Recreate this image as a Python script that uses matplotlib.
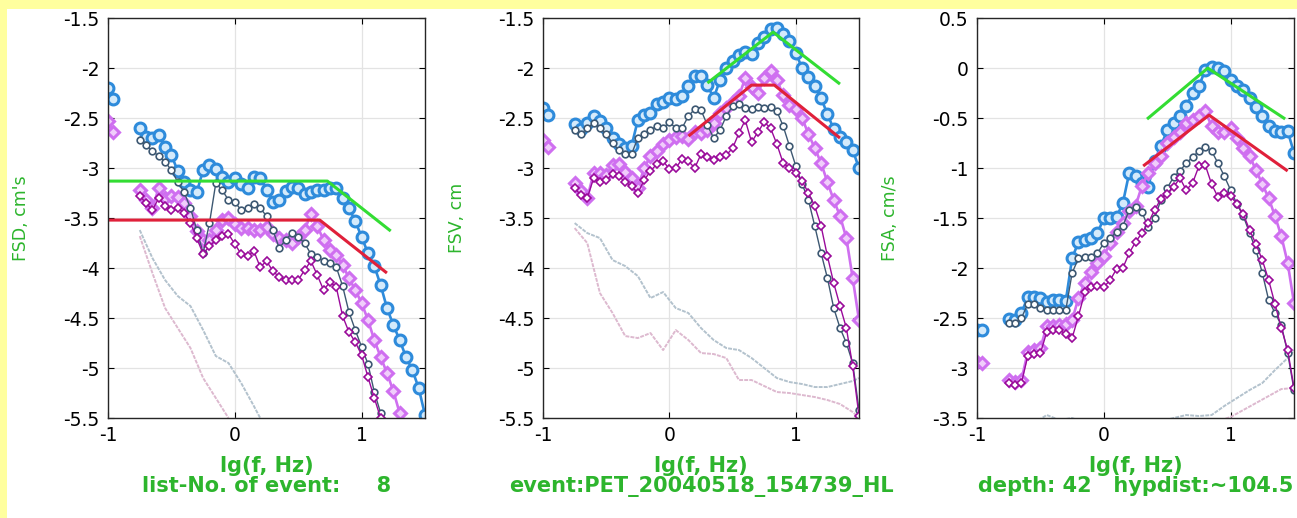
import matplotlib
matplotlib.use("Agg")
import matplotlib.pyplot as plt
from matplotlib.patches import Rectangle
from matplotlib.ticker import FormatStrFormatter

plt.rcParams["font.family"] = ["DejaVu Sans"]
plt.rcParams["axes.unicode_minus"] = False

# common frequency grid, lg(f, Hz)
lgf = [-0.75, -0.70, -0.65, -0.60, -0.55, -0.50, -0.45, -0.40, -0.35, -0.30,
       -0.25, -0.20, -0.15, -0.10, -0.05, 0.00, 0.05, 0.10, 0.15, 0.20,
       0.25, 0.30, 0.35, 0.40, 0.45, 0.50, 0.55, 0.60, 0.65, 0.70,
       0.75, 0.80, 0.85, 0.90, 0.95, 1.00, 1.05, 1.10, 1.15, 1.20,
       1.25, 1.30, 1.35, 1.40, 1.45, 1.50]
lgf_edge = [-1.00, -0.96]

# ---- FSD ----
fsd_blue = [-2.60, -2.69, -2.70, -2.67, -2.79, -2.87, -3.03, -3.14, -3.22, -3.24,
            -3.02, -2.97, -3.01, -3.09, -3.14, -3.10, -3.16, -3.20, -3.09, -3.10,
            -3.22, -3.34, -3.32, -3.23, -3.19, -3.20, -3.26, -3.24, -3.22, -3.22,
            -3.20, -3.20, -3.30, -3.40, -3.53, -3.69, -3.85, -3.98, -4.17, -4.40,
            -4.57, -4.72, -4.89, -5.02, -5.20, -5.47]
fsd_slate = [-2.72, -2.77, -2.83, -2.88, -2.94, -3.02, -3.14, -3.24, -3.40, -3.62,
             -3.85, -3.55, -3.15, -3.22, -3.32, -3.34, -3.42, -3.40, -3.36, -3.40,
             -3.48, -3.62, -3.80, -3.72, -3.65, -3.69, -3.75, -3.86, -3.89, -3.93,
             -3.95, -3.99, -4.18, -4.44, -4.62, -4.79, -4.96, -5.24, -5.45]
fsd_violet = [-3.22, -3.32, -3.40, -3.20, -3.30, -3.28, -3.29, -3.35, -3.48, -3.63,
              -3.72, -3.72, -3.62, -3.52, -3.50, -3.56, -3.60, -3.60, -3.62, -3.62,
              -3.59, -3.66, -3.70, -3.72, -3.75, -3.69, -3.62, -3.46, -3.58, -3.72,
              -3.82, -3.87, -3.97, -4.10, -4.22, -4.35, -4.52, -4.72, -4.89, -5.05,
              -5.23, -5.45]
fsd_purple = [-3.28, -3.35, -3.42, -3.30, -3.38, -3.42, -3.40, -3.45, -3.55, -3.70,
              -3.86, -3.78, -3.72, -3.68, -3.66, -3.76, -3.86, -3.88, -3.83, -3.99,
              -3.93, -4.03, -4.09, -4.12, -4.12, -4.12, -4.02, -3.93, -4.07, -4.22,
              -4.14, -4.19, -4.48, -4.64, -4.74, -4.87, -5.09, -5.30, -5.50]
fsd_edge_blue = [-2.20, -2.31]
fsd_edge_violet = [-2.53, -2.64]
fsd_green_x = [-1.00, 0.73, 1.22]
fsd_green_y = [-3.13, -3.13, -3.62]
fsd_red_x = [-1.00, 0.67, 1.19]
fsd_red_y = [-3.52, -3.52, -4.04]
fsd_noise1_x = [-0.75, -0.65, -0.55, -0.45, -0.35, -0.25, -0.15, -0.05, 0.05, 0.15, 0.20]
fsd_noise1_y = [-3.62, -3.90, -4.12, -4.28, -4.38, -4.62, -4.88, -4.95, -5.15, -5.38, -5.50]
fsd_noise2_x = [-0.75, -0.65, -0.55, -0.45, -0.35, -0.25, -0.15, -0.05]
fsd_noise2_y = [-3.68, -4.05, -4.40, -4.60, -4.80, -5.10, -5.30, -5.50]

# ---- FSV ----
fsv_blue = [-2.56, -2.61, -2.55, -2.48, -2.53, -2.60, -2.70, -2.76, -2.80, -2.78,
            -2.52, -2.47, -2.45, -2.36, -2.34, -2.30, -2.31, -2.28, -2.18, -2.08,
            -2.08, -2.17, -2.30, -2.12, -2.00, -1.93, -1.87, -1.84, -1.86, -1.75,
            -1.69, -1.61, -1.60, -1.66, -1.73, -1.85, -2.00, -2.09, -2.18, -2.30,
            -2.46, -2.61, -2.69, -2.74, -2.82, -3.00]
fsv_slate = [-2.62, -2.66, -2.60, -2.55, -2.60, -2.66, -2.75, -2.82, -2.86, -2.86,
             -2.70, -2.66, -2.62, -2.58, -2.60, -2.54, -2.60, -2.60, -2.48, -2.41,
             -2.42, -2.57, -2.70, -2.62, -2.48, -2.38, -2.36, -2.40, -2.41, -2.39,
             -2.40, -2.39, -2.43, -2.58, -2.78, -2.98, -3.16, -3.32, -3.58, -3.85,
             -4.10, -4.40, -4.60, -4.75, -4.95, -5.42]
fsv_violet = [-3.15, -3.23, -3.30, -3.05, -3.05, -3.07, -2.97, -2.96, -3.04, -3.10,
              -3.20, -3.00, -2.88, -2.83, -2.76, -2.72, -2.69, -2.68, -2.71, -2.64,
              -2.65, -2.62, -2.55, -2.45, -2.40, -2.34, -2.28, -2.10, -2.19, -2.25,
              -2.10, -2.03, -2.12, -2.27, -2.37, -2.41, -2.50, -2.66, -2.80, -2.95,
              -3.14, -3.32, -3.48, -3.70, -4.10, -4.52]
fsv_purple = [-3.20, -3.27, -3.30, -3.10, -3.14, -3.12, -3.06, -3.08, -3.14, -3.18,
              -3.25, -3.12, -3.03, -2.96, -2.93, -3.01, -3.00, -2.91, -2.93, -3.00,
              -2.86, -2.89, -2.92, -2.89, -2.87, -2.80, -2.65, -2.52, -2.74, -2.64,
              -2.54, -2.60, -2.76, -2.95, -3.00, -3.05, -3.13, -3.25, -3.38, -3.58,
              -3.88, -4.15, -4.38, -4.60, -4.98, -5.48]
fsv_edge_blue = [-2.40, -2.47]
fsv_edge_violet = [-2.72, -2.79]
fsv_green_x = [0.31, 0.82, 1.34]
fsv_green_y = [-2.14, -1.64, -2.15]
fsv_red_x = [0.16, 0.65, 0.83, 1.34]
fsv_red_y = [-2.67, -2.17, -2.17, -2.69]
fsv_noise_x = [-0.75, -0.65, -0.55, -0.45, -0.35, -0.25, -0.15, -0.05, 0.05, 0.15,
               0.25, 0.35, 0.45, 0.55, 0.65, 0.75, 0.85, 0.95, 1.05, 1.15,
               1.25, 1.35, 1.45, 1.50]
fsv_noise1_y = [-3.55, -3.65, -3.70, -3.92, -3.98, -4.08, -4.30, -4.24, -4.40, -4.45,
                -4.60, -4.72, -4.80, -4.82, -4.90, -5.00, -5.10, -5.14, -5.16, -5.19,
                -5.19, -5.16, -5.13, -5.10]
fsv_noise2_y = [-3.60, -3.75, -4.25, -4.45, -4.68, -4.70, -4.65, -4.82, -4.62, -4.72,
                -4.85, -4.86, -4.90, -5.12, -5.12, -5.18, -5.24, -5.25, -5.27, -5.29,
                -5.32, -5.36, -5.44, -5.50]

# ---- FSA ----
fsa_blue = [-2.51, -2.52, -2.45, -2.29, -2.29, -2.30, -2.34, -2.32, -2.32, -2.33,
            -1.90, -1.74, -1.72, -1.70, -1.65, -1.50, -1.50, -1.49, -1.35, -1.05,
            -1.08, -1.15, -1.19, -0.93, -0.78, -0.62, -0.55, -0.48, -0.38, -0.25,
            -0.18, -0.02, 0.01, 0.00, -0.03, -0.12, -0.18, -0.22, -0.30, -0.39,
            -0.48, -0.58, -0.63, -0.64, -0.63, -0.85]
fsa_slate = [-2.55, -2.55, -2.50, -2.36, -2.36, -2.40, -2.42, -2.42, -2.42, -2.42,
             -2.05, -1.90, -1.89, -1.89, -1.85, -1.75, -1.70, -1.64, -1.58, -1.42,
             -1.39, -1.44, -1.59, -1.50, -1.32, -1.20, -1.09, -1.03, -0.95, -0.89,
             -0.83, -0.79, -0.83, -0.95, -1.08, -1.22, -1.36, -1.48, -1.65, -1.82,
             -2.05, -2.32, -2.45, -2.57, -2.85, -3.22]
fsa_violet = [-3.12, -3.14, -3.12, -2.84, -2.82, -2.80, -2.58, -2.58, -2.57, -2.56,
              -2.52, -2.30, -2.15, -2.04, -1.95, -1.88, -1.75, -1.64, -1.55, -1.43,
              -1.38, -1.18, -1.05, -0.95, -0.88, -0.75, -0.69, -0.64, -0.55, -0.52,
              -0.48, -0.43, -0.58, -0.64, -0.64, -0.60, -0.70, -0.80, -0.88, -1.02,
              -1.16, -1.30, -1.48, -1.68, -1.95, -2.35]
fsa_purple = [-3.15, -3.17, -3.15, -2.88, -2.86, -2.85, -2.64, -2.62, -2.62, -2.66,
              -2.70, -2.48, -2.24, -2.19, -2.18, -2.19, -2.12, -2.01, -2.00, -1.85,
              -1.74, -1.65, -1.55, -1.42, -1.31, -1.26, -1.19, -1.10, -1.22, -1.15,
              -0.98, -0.97, -1.16, -1.29, -1.25, -1.28, -1.36, -1.46, -1.62, -1.76,
              -1.92, -2.12, -2.36, -2.60, -2.82, -3.20]
fsa_edge_blue = [-2.62, -2.62]
fsa_edge_violet = [-2.94, -2.95]
fsa_green_x = [0.35, 0.82, 1.42]
fsa_green_y = [-0.50, 0.00, -0.50]
fsa_red_x = [0.32, 0.83, 1.44]
fsa_red_y = [-0.97, -0.47, -1.02]
fsa_noise1_x = [-0.55, -0.45, -0.35, -0.25, -0.15, 0.00, 0.20, 0.40, 0.55, 0.65,
                0.75, 0.85, 0.95, 1.05, 1.15, 1.25, 1.35, 1.45, 1.50]
fsa_noise1_y = [-3.55, -3.47, -3.52, -3.50, -3.55, -3.53, -3.56, -3.55, -3.50, -3.47,
                -3.48, -3.47, -3.38, -3.30, -3.22, -3.15, -3.02, -2.90, -2.82]
fsa_noise2_x = [-0.35, -0.20, 0.10, 0.50, 0.90, 1.00, 1.10, 1.20, 1.30, 1.40, 1.50]
fsa_noise2_y = [-3.52, -3.55, -3.55, -3.55, -3.53, -3.49, -3.42, -3.35, -3.28, -3.21, -3.20]

label_green = "#2DB52D"
line_green = "#33DD33"
line_red = "#E0203A"

blue_style = dict(color="#2E8BDB", marker="o", ms=7.8, mfc="#D4EAFB", mew=2.2, lw=1.9)
slate_style = dict(color="#3D5872", marker="o", ms=4.8, mfc="white", mew=1.2, lw=1.0)
violet_style = dict(color="#CF6FF0", marker="D", ms=6.0, mfc="#F0CDFB", mew=2.2, lw=1.9)
purple_style = dict(color="#9A0A9A", marker="D", ms=4.0, mfc="white", mew=1.2, lw=1.0)


def draw_panel(ax, spectra, edges, green, red, noise, ylim, yticks, ylabel, info):
    blue, slate, violet, purple = spectra
    # pre-event noise spectra, drawn faint
    for (nx, ny), c in zip(noise, ["#B3C2CD", "#DDB9CF"]):
        ax.plot(nx, ny, color=c, lw=1.4, ls=(0, (2, 0.6)))

    ax.plot(lgf[:len(blue)], blue, **blue_style)
    ax.plot(lgf_edge, edges[0], **blue_style)
    ax.plot(lgf[:len(violet)], violet, **violet_style)
    ax.plot(lgf_edge, edges[1], **violet_style)
    ax.plot(lgf[:len(slate)], slate, **slate_style)
    ax.plot(lgf[:len(purple)], purple, **purple_style)

    ax.plot(green[0], green[1], color=line_green, lw=2.2)
    ax.plot(red[0], red[1], color=line_red, lw=2.2)

    ax.set_xlim(-1, 1.5)
    ax.set_ylim(*ylim)
    ax.set_xticks([-1, 0, 1])
    ax.set_yticks(yticks)
    ax.yaxis.set_major_formatter(FormatStrFormatter("%g"))
    ax.grid(True, color="#E3E3E3", lw=0.9)
    ax.set_axisbelow(True)
    ax.tick_params(direction="in", length=4, width=0.8, top=True, right=True,
                   labelsize=13.5, pad=6)
    for sp in ax.spines.values():
        sp.set_color("#262626")
        sp.set_linewidth(1.0)

    ax.set_ylabel(ylabel, color=label_green, fontsize=12.5)
    ax.yaxis.set_label_coords(-0.245, 0.5)
    ax.set_xlabel("lg(f, Hz)\n" + info, color=label_green, fontsize=15,
                  fontweight="bold", linespacing=1.0)
    ax.xaxis.set_label_coords(0.5, -0.095)


fig = plt.figure(figsize=(12.97, 5.18), dpi=100, facecolor="#FFFF9E")
fig.add_artist(Rectangle((7 / 1297, 0), 1, (518 - 9) / 518, transform=fig.transFigure,
                         facecolor="white", edgecolor="none", zorder=-1))

ax1 = fig.add_axes([0.0833, 0.193, 0.2444, 0.772])
ax2 = fig.add_axes([0.4187, 0.193, 0.2436, 0.772])
ax3 = fig.add_axes([0.7533, 0.193, 0.2444, 0.772])

draw_panel(ax1, (fsd_blue, fsd_slate, fsd_violet, fsd_purple),
           (fsd_edge_blue, fsd_edge_violet),
           (fsd_green_x, fsd_green_y), (fsd_red_x, fsd_red_y),
           [(fsd_noise1_x, fsd_noise1_y), (fsd_noise2_x, fsd_noise2_y)],
           (-5.5, -1.5), [-5.5, -5, -4.5, -4, -3.5, -3, -2.5, -2, -1.5],
           "FSD, cm's", "list-No. of event:     8")
draw_panel(ax2, (fsv_blue, fsv_slate, fsv_violet, fsv_purple),
           (fsv_edge_blue, fsv_edge_violet),
           (fsv_green_x, fsv_green_y), (fsv_red_x, fsv_red_y),
           [(fsv_noise_x, fsv_noise1_y), (fsv_noise_x, fsv_noise2_y)],
           (-5.5, -1.5), [-5.5, -5, -4.5, -4, -3.5, -3, -2.5, -2, -1.5],
           "FSV, cm", "event:PET_20040518_154739_HL")
draw_panel(ax3, (fsa_blue, fsa_slate, fsa_violet, fsa_purple),
           (fsa_edge_blue, fsa_edge_violet),
           (fsa_green_x, fsa_green_y), (fsa_red_x, fsa_red_y),
           [(fsa_noise1_x, fsa_noise1_y), (fsa_noise2_x, fsa_noise2_y)],
           (-3.5, 0.5), [-3.5, -3, -2.5, -2, -1.5, -1, -0.5, 0, 0.5],
           "FSA, cm/s", "depth: 42   hypdist:~104.5")

fig.savefig("out.png", dpi=100, facecolor=fig.get_facecolor())
